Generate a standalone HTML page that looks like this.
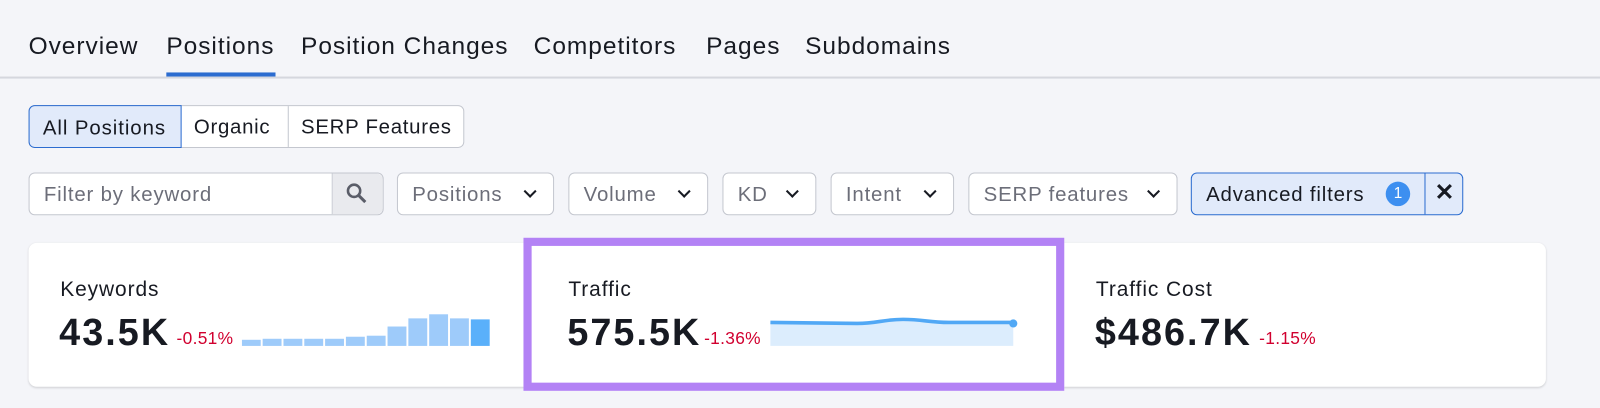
<!DOCTYPE html>
<html><head><meta charset="utf-8"><style>
*{box-sizing:border-box;margin:0;padding:0}
body{width:1600px;height:408px;background:#f4f5f9;font-family:"Liberation Sans",sans-serif;overflow:hidden;color:#171a22}
#w{position:absolute;left:0;top:0;width:1568px;height:400px;transform:scale(1.0204);transform-origin:0 0}
.a{position:absolute}
.tab{position:absolute;top:32px;font-size:24px;letter-spacing:0.95px;color:#171a22}
.btn{position:absolute;height:42px;border:1px solid #c4c7cf;background:#fff;font-size:20px;letter-spacing:0.8px;display:flex;align-items:center;padding-left:14px;padding-top:2px;color:#6c6e79;border-radius:6px}
.chev{position:absolute;right:18px;top:13px;width:9px;height:9px;border-right:2.5px solid #171a22;border-bottom:2.5px solid #171a22;transform:rotate(45deg)}
.lbl{position:absolute;font-size:20.5px;letter-spacing:0.9px;color:#171a22}
.val{position:absolute;font-size:37px;font-weight:bold;color:#171a22;letter-spacing:2px}
.pct{position:absolute;font-size:17px;letter-spacing:0.3px;color:#d1002f}
</style></head><body><div id="w">
<div class="tab" style="left:28px">Overview</div>
<div class="tab" style="left:163px">Positions</div>
<div class="tab" style="left:295px">Position Changes</div>
<div class="tab" style="left:523px">Competitors</div>
<div class="tab" style="left:692px">Pages</div>
<div class="tab" style="left:789px">Subdomains</div>
<div class="a" style="left:0;top:75px;width:1600px;height:2px;background:#d5d7de"></div>
<div class="a" style="left:163px;top:71px;width:107px;height:4px;background:#2b6cd0"></div>

<div class="a" style="left:28px;top:103px;width:427px;height:42px;border:1px solid #c4c7cf;border-radius:6px;background:#fff"></div>
<div class="a" style="left:28px;top:103px;width:150px;height:42px;border:1px solid #2b6cd0;border-radius:6px 0 0 6px;background:#e1eafa;font-size:20px;letter-spacing:0.9px;padding:11px 0 0 13px">All Positions</div>
<div class="a" style="left:190px;top:114px;font-size:20px;letter-spacing:0.7px">Organic</div>
<div class="a" style="left:282px;top:104px;width:1px;height:40px;background:#c4c7cf"></div>
<div class="a" style="left:295px;top:114px;font-size:20px;letter-spacing:0.7px">SERP Features</div>

<div class="btn" style="left:28px;top:169px;width:348px">Filter by keyword</div>
<div class="a" style="left:325px;top:170px;width:50px;height:40px;background:#e9eaee;border-left:1px solid #c4c7cf;border-radius:0 6px 6px 0"></div>
<svg class="a" style="left:338px;top:178px" width="24" height="24"><circle cx="9" cy="9" r="6" fill="none" stroke="#5a5d68" stroke-width="2.5"/><line x1="13.5" y1="13.5" x2="20" y2="20" stroke="#5a5d68" stroke-width="3"/></svg>
<div class="btn" style="left:389px;top:169px;width:154px">Positions<span class="chev"></span></div>
<div class="btn" style="left:557px;top:169px;width:137px">Volume<span class="chev"></span></div>
<div class="btn" style="left:708px;top:169px;width:92px">KD<span class="chev"></span></div>
<div class="btn" style="left:814px;top:169px;width:121px">Intent<span class="chev"></span></div>
<div class="btn" style="left:949px;top:169px;width:205px">SERP features<span class="chev"></span></div>
<div class="btn" style="left:1167px;top:169px;width:267px;background:#e1eafa;border-color:#2b6cd0;color:#171a22">Advanced filters</div>
<div class="a" style="left:1358px;top:178px;width:24px;height:24px;border-radius:50%;background:#3d8ff0;color:#fff;font-size:15px;text-align:center;line-height:24px">1</div>
<div class="a" style="left:1396px;top:170px;width:1px;height:40px;background:#2b6cd0"></div>
<div class="a" style="left:1406px;top:175px;font-size:23px;font-weight:bold">✕</div>

<div class="a" style="left:28px;top:238px;width:1487px;height:141px;background:#fff;border-radius:8px;box-shadow:0 1px 2px rgba(0,0,0,0.15)"></div>
<div class="a" style="left:513px;top:233px;width:530px;height:150px;border:8px solid #b382f5;background:#fff"></div>

<div class="lbl" style="left:59px;top:272px">Keywords</div>
<div class="val" style="left:58px;top:305px">43.5K</div>
<div class="pct" style="left:173px;top:322px">-0.51%</div>
<svg class="a" style="left:237px;top:300px" width="250" height="40">
<g fill="#9ecbfa">
<rect x="0" y="33" width="18.5" height="6"/><rect x="20.4" y="32" width="18.5" height="7"/><rect x="40.8" y="32" width="18.5" height="7"/><rect x="61.2" y="32" width="18.5" height="7"/><rect x="81.6" y="32" width="18.5" height="7"/><rect x="102" y="30" width="18.5" height="9"/><rect x="122.4" y="29" width="18.5" height="10"/><rect x="142.8" y="20" width="18.5" height="19"/><rect x="163.2" y="12" width="18.5" height="27"/><rect x="183.6" y="8" width="18.5" height="31"/><rect x="204" y="12" width="18.5" height="27"/></g>
<rect x="224.4" y="13" width="18.5" height="26" fill="#5ab0fa"/>
</svg>

<div class="lbl" style="left:557px;top:272px">Traffic</div>
<div class="val" style="left:556px;top:305px">575.5K</div>
<div class="pct" style="left:690px;top:322px">-1.36%</div>
<svg class="a" style="left:750px;top:305px" width="250" height="40">
<path d="M5 11 L90 12 C110 12 115 8 135 8 C155 8 160 11 180 11 L243 11 L243 34 L5 34 Z" fill="#dcedfd"/>
<path d="M5 11 L90 12 C110 12 115 8 135 8 C155 8 160 11 180 11 L243 11" fill="none" stroke="#51a8f5" stroke-width="3.5"/>
<circle cx="243" cy="12" r="4" fill="#51a8f5"/>
</svg>

<div class="lbl" style="left:1074px;top:272px">Traffic Cost</div>
<div class="val" style="left:1073px;top:305px">$486.7K</div>
<div class="pct" style="left:1234px;top:322px">-1.15%</div>
</div></body></html>
